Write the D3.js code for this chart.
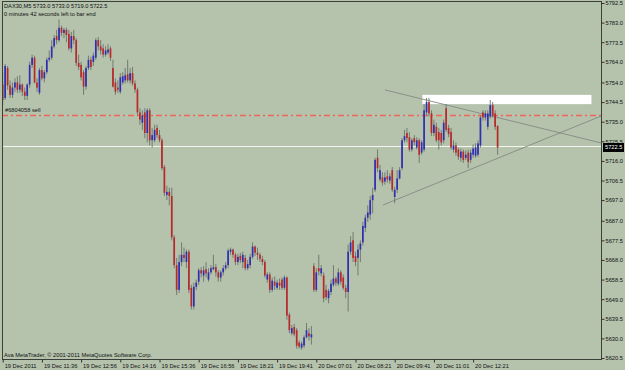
<!DOCTYPE html>
<html>
<head>
<title>DAX30,M5</title>
<script src="https://d3js.org/d3.v7.min.js" charset="utf-8"></script>
<style>
	body{ margin:0; background:#b5c3ad; }
	text{ font-family:"Liberation Sans", Arial, sans-serif; }
</style>
</head>
<body>
<script>
// chart window size
var width = 625;
var height = 370;

// M5 bars, 19 Dec 2011 .. 20 Dec 2011 12:xx
var opens = [
	5753,5746.5,5761,5752.5,5748,5751.5,5754,5750.5,5753,5749.5,
	5747.5,5753,5762.5,5766,5754,5749,5760,5756,5759,5765,
	5766,5771.5,5776.5,5774.5,5780.5,5778,5779.5,5777.5,5770.5,5776.5,
	5774.5,5763.5,5762.5,5759,5752,5761,5765,5764,5766,5774.5,
	5771.5,5770.5,5767.5,5768.5,5770.5,5761,5754,5751.5,5749.5,5754,
	5755,5758,5755,5758.5,5753.5,5750.5,5739.5,5734.5,5739.5,5729.5,
	5740.5,5726,5726,5732,5728.5,5726,5713,5699.5,5701,5699,
	5679,5665.5,5653.5,5667,5670.5,5667,5672,5654.5,5645.5,5655,
	5657.5,5663,5660.5,5663.5,5658.5,5662,5663.5,5664.5,5662,5659.5,
	5662,5664,5665.5,5672,5673,5670.5,5667,5670,5667,5669,
	5664,5665.5,5669.5,5674.5,5671.5,5670.5,5668.5,5667,5658.5,5661,
	5653.5,5657.5,5654.5,5657,5658.5,5654.5,5659.5,5641.5,5632.5,5635.5,
	5634,5628,5625.5,5626.5,5630.5,5632.5,5630.5,5665,5653.5,5664,
	5661.5,5660.5,5653.5,5649.5,5652.5,5656,5659,5656.5,5662,5659.5,
	5654.5,5652.5,5672,5677.5,5670,5669,5673,5676.5,5683.5,5688.5,
	5690,5697,5702,5717.5,5707,5708,5706,5708.5,5706.5,5711.5,
	5698.5,5702,5707.5,5712.5,5726,5729.5,5727.5,5721.5,5727,5722.5,
	5726,5720,5721.5,5739.5,5744.5,5739,5729.5,5732.5,5730,5729.5,
	5726,5741.5,5732,5730,5721.5,5723.5,5721.5,5717.5,5720.5,5717.5,
	5720,5716.5,5719,5718.5,5719,5723.5,5739.5,5737,5732.5,5737.5,
	5743,5739,5733
];
var highs = [
	5759,5763,5762,5755,5754,5756,5757,5757.5,5753.5,5751.5,
	5753.5,5764,5767.5,5767,5756,5761,5762,5760,5766,5769.5,
	5774.5,5777,5779.5,5784.5,5781.5,5780.5,5780.5,5779.5,5778.5,5779.5,
	5775.5,5767.5,5764,5760,5762,5767,5766.5,5768.5,5775.5,5776,
	5774.5,5772.5,5771.5,5772.5,5771.5,5765,5756,5755,5758.5,5759,
	5761,5765,5761,5761.5,5755,5751.5,5741.5,5740.5,5741.5,5741.5,
	5741.5,5732,5733.5,5733.5,5731,5727,5714,5704,5703,5703,
	5680,5669,5670.5,5676.5,5674,5673,5673,5656,5657,5658.5,
	5664,5664.5,5665,5667,5664,5665.5,5670.5,5666,5663,5663,
	5665.5,5667,5673.5,5674,5673.5,5671.5,5671,5671.5,5672,5670.5,
	5668,5671,5676.5,5675,5674,5671.5,5670,5668,5662,5662,
	5659.5,5660,5658.5,5659,5659.5,5660.5,5660,5642.5,5636.5,5637,
	5635,5629,5628.5,5631.5,5637.5,5635,5636,5666.5,5664,5670.5,
	5665.5,5662,5656,5654,5658.5,5665.5,5660,5664,5663,5661,
	5656,5675.5,5679.5,5681.5,5672,5675.5,5677.5,5686.5,5690,5694.5,
	5699,5703,5717.5,5721.5,5714,5710.5,5710.5,5711.5,5710,5713,
	5703.5,5711.5,5713,5727,5731,5732,5730,5727,5728.5,5727.5,
	5727,5726,5743.5,5746.5,5746.5,5740.5,5736,5734.5,5732,5731,
	5736,5743.5,5733.5,5732,5726,5725,5722.5,5722,5721.5,5721,
	5721.5,5721.5,5724,5724.5,5726,5738,5740.5,5740.5,5740.5,5745.5,
	5744.5,5740.5,5733
];
var lows = [
	5743,5745.5,5750.5,5746.5,5746.5,5749.5,5749,5749,5747.5,5745.5,
	5745.5,5751.5,5761,5753.5,5749.5,5748,5755,5754,5758,5764,
	5765,5770.5,5772.5,5773.5,5776.5,5775.5,5773.5,5769.5,5768.5,5772.5,
	5762,5760,5755,5748,5750.5,5760,5760,5762,5765,5769.5,
	5767.5,5766,5766.5,5767.5,5764.5,5751.5,5748,5749,5748.5,5753,
	5753.5,5754,5753.5,5752.5,5749,5738,5733.5,5731,5727,5725,
	5723.5,5722.5,5725,5727,5725,5711.5,5699,5697,5694.5,5677.5,
	5664,5651,5652,5665,5667,5664,5652,5644,5644,5653.5,
	5656,5659.5,5657.5,5659.5,5657.5,5661,5663,5660,5657.5,5657.5,
	5660.5,5663,5664,5670.5,5669,5665.5,5665.5,5666.5,5664,5663,
	5663,5664,5668.5,5670,5668,5667,5665.5,5659.5,5657,5652,
	5652.5,5653.5,5653.5,5653.5,5653.5,5653.5,5639,5632.5,5631.5,5631,
	5625,5625,5624.5,5625.5,5630,5629,5627,5652.5,5652.5,5660.5,
	5660,5647.5,5648.5,5647,5651,5655,5655.5,5655.5,5656,5653.5,
	5649.5,5643,5670.5,5667,5665,5660.5,5667,5675,5681.5,5686.5,
	5687.5,5690.5,5701,5710.5,5706,5704,5704.5,5705.5,5705,5701,
	5695.5,5700.5,5707,5711.5,5725,5725,5720.5,5720.5,5723.5,5721.5,
	5715,5719,5720.5,5738,5737.5,5728,5728,5725,5721.5,5723.5,
	5724.5,5730,5727.5,5721.5,5720,5718.5,5716.5,5715.5,5715,5716.5,
	5712.5,5715,5717.5,5717.5,5718,5722.5,5735.5,5735.5,5731,5736.5,
	5737,5731,5719
];
var closes = [
	5745.5,5762,5752.5,5748,5751.5,5754,5750.5,5753,5749.5,5747.5,
	5753,5762.5,5766,5754,5751.5,5760,5756,5759,5765,5766,
	5771.5,5775.5,5774.5,5780.5,5778,5779.5,5777,5770.5,5776.5,5774.5,
	5763.5,5761.5,5756.5,5752,5761,5765,5761.5,5767,5774.5,5771.5,
	5769.5,5767.5,5769.5,5770,5766,5752,5749.5,5750.5,5756.5,5757,
	5757.5,5755,5758.5,5753.5,5750.5,5739.5,5736,5738,5729.5,5740.5,
	5726,5728.5,5731,5728.5,5726,5712.5,5700.5,5701,5699,5679,
	5665.5,5653.5,5667,5670.5,5669,5672,5653.5,5645.5,5655,5657,
	5663,5661.5,5663,5661.5,5662,5664,5664.5,5662,5659.5,5662,
	5664,5665.5,5672.5,5673,5670.5,5667,5669.5,5668,5670.5,5664,
	5666,5669.5,5674.5,5671.5,5670.5,5668.5,5667,5660.5,5661,5653.5,
	5658,5655.5,5657,5655.5,5654.5,5659.5,5641,5634,5635,5632,
	5626.5,5626,5627.5,5630.5,5634,5631,5632,5653.5,5662,5662.5,
	5664,5649.5,5650,5653,5656.5,5659,5657,5662,5657.5,5654.5,
	5652.5,5672,5676.5,5669,5667,5673,5676,5684.5,5688.5,5691,
	5697,5699.5,5716.5,5712.5,5711.5,5705.5,5708,5707,5708.5,5702,
	5702,5707.5,5711.5,5726,5728,5727,5721.5,5726,5725,5726,
	5719,5725,5740.5,5744.5,5739,5729.5,5733.5,5726,5726,5725,
	5734.5,5731,5729,5722.5,5723.5,5720,5718,5720.5,5716.5,5719,
	5715.5,5720,5722,5722.5,5724.5,5737,5737,5739,5739,5743,
	5738,5732.5,5722.5
];

// time axis: one label every 16 bars
var timeIndex = [0,16,32,48,64,80,96,112,128,144,160,176,192];
var timeLabels = ["19 Dec 2011","19 Dec 11:36","19 Dec 12:56","19 Dec 14:16","19 Dec 15:36",
	"19 Dec 16:56","19 Dec 18:21","19 Dec 19:41","20 Dec 07:01","20 Dec 08:21",
	"20 Dec 09:41","20 Dec 11:01","20 Dec 12:21"];

// price axis
var priceTicks = [5792.5,5783.0,5773.5,5764.0,5754.0,5744.5,5735.0,5725.5,5716.0,5706.5,
	5697.0,5687.0,5677.5,5668.0,5658.5,5649.0,5639.5,5630.0,5620.5];

var bidPrice = 5722.5;
var orderPrice = 5738;
var orderLabel = "#6804058 sell";

// drawn objects: [bar, price] end points
var upperLine = [[156.0, 5750.4], [244.2, 5724.7]];
var lowerLine = [[155.2, 5694.6], [244.2, 5737.7]];
var box = {bar0: 171.3, bar1: 240.3, top: 5748, bottom: 5743.5};

var header1 = "DAX30,M5  5733.0 5733.0 5719.0 5722.5";
var header2 = "0 minutes 42 seconds left to bar end";
var copyright = "Ava MetaTrader, \u00a9 2001-2011 MetaQuotes Software Corp.";

var plotLeft = 2, plotRight = 601, plotTop = 1, plotBottom = 359;
var fontSize = 5.7;

var x = d3.scaleLinear().domain([0, 202]).range([2.7, 497.6]);
var y = d3.scaleLinear().domain([5620.5, 5792.5]).range([358, 3]);

var svg = d3.select("body")
	.append("svg")
	.attr("width", width)
	.attr("height", height);

svg.append("rect")
	.attr("width", width).attr("height", height)
	.attr("fill", "#b5c3ad");

svg.append("defs").append("clipPath").attr("id", "plot")
	.append("rect")
	.attr("x", plotLeft).attr("y", plotTop)
	.attr("width", plotRight - plotLeft).attr("height", plotBottom - plotTop);

var g = svg.append("g").attr("clip-path", "url(#plot)");

// order line (snapped to the pixel grid so the dashes stay crisp)
var orderY = Math.round(y(orderPrice)) + 0.5;
g.append("line")
	.attr("x1", plotLeft).attr("x2", plotRight)
	.attr("y1", orderY).attr("y2", orderY)
	.attr("stroke", "#f0645a")
	.attr("stroke-width", 1.3)
	.attr("stroke-dasharray", "6,3,2,3");

// bid line
var bidY = Math.round(y(bidPrice)) - 0.5;
g.append("line")
	.attr("x1", plotLeft).attr("x2", plotRight)
	.attr("y1", bidY).attr("y2", bidY)
	.attr("stroke", "#f4f4f0")
	.attr("stroke-width", 1);

// white rectangle object
g.append("rect")
	.attr("x", x(box.bar0))
	.attr("y", y(box.top))
	.attr("width", x(box.bar1) - x(box.bar0))
	.attr("height", y(box.bottom) - y(box.top))
	.attr("fill", "#ffffff");

// trend lines
[upperLine, lowerLine].forEach(function(l){
	g.append("line")
		.attr("x1", x(l[0][0])).attr("y1", y(l[0][1]))
		.attr("x2", x(l[1][0])).attr("y2", y(l[1][1]))
		.attr("stroke", "#858a84")
		.attr("stroke-width", 0.9);
});

var bars = d3.range(opens.length);

// wicks
g.selectAll("line.wick")
	.data(bars)
	.enter()
	.append("line")
	.attr("class", "wick")
	.attr("x1", function(i){ return x(i); })
	.attr("x2", function(i){ return x(i); })
	.attr("y1", function(i){ return y(highs[i]); })
	.attr("y2", function(i){ return y(lows[i]); })
	.attr("stroke", "#6c726c")
	.attr("stroke-width", 0.9);

// bodies
g.selectAll("rect.body")
	.data(bars)
	.enter()
	.append("rect")
	.attr("class", "body")
	.attr("x", function(i){ return x(i) - 0.85; })
	.attr("width", 1.7)
	.attr("y", function(i){ return y(Math.max(opens[i], closes[i])); })
	.attr("height", function(i){ return Math.max(0.8, Math.abs(y(opens[i]) - y(closes[i]))); })
	.attr("fill", function(i){ return closes[i] >= opens[i] ? "#2f2fb4" : "#b82a2a"; });

// frame
svg.append("rect")
	.attr("x", plotLeft + 0.5).attr("y", plotTop + 0.5)
	.attr("width", plotRight - plotLeft).attr("height", plotBottom - plotTop)
	.attr("fill", "none")
	.attr("stroke", "#3a3f3a")
	.attr("stroke-width", 1);

// price axis
var yAxis = d3.axisRight(y)
	.tickValues(priceTicks)
	.tickFormat(d3.format(".1f"))
	.tickSize(3)
	.tickPadding(1);

var ya = svg.append("g")
	.attr("transform", "translate(" + (plotRight + 0.5) + ",0)")
	.call(yAxis);
ya.select(".domain").remove();
ya.selectAll("line").attr("stroke", "#303030");
ya.selectAll("text")
	.attr("font-size", fontSize)
	.attr("font-family", "Liberation Sans, Arial, sans-serif")
	.attr("fill", "#101010");

// bid price label
svg.append("rect")
	.attr("x", plotRight + 2).attr("y", y(bidPrice) - 4.5)
	.attr("width", 21).attr("height", 9)
	.attr("fill", "#000000");
svg.append("text")
	.attr("x", plotRight + 4).attr("y", y(bidPrice))
	.attr("dy", "0.35em")
	.attr("font-size", fontSize)
	.attr("fill", "#ffffff")
	.text(d3.format(".1f")(bidPrice));

// time axis
var xAxis = d3.axisBottom(x)
	.tickValues(timeIndex)
	.tickFormat(function(d, i){ return timeLabels[i]; })
	.tickSize(3)
	.tickPadding(1);

var xa = svg.append("g")
	.attr("transform", "translate(0," + (plotBottom + 0.5) + ")")
	.call(xAxis);
xa.select(".domain").remove();
xa.selectAll("line").attr("stroke", "#303030");
xa.selectAll("text")
	.attr("text-anchor", "start")
	.attr("dx", 1.5)
	.attr("font-size", fontSize)
	.attr("font-family", "Liberation Sans, Arial, sans-serif")
	.attr("fill", "#101010");

// texts in the chart
svg.append("text").attr("x", 4).attr("y", 8)
	.attr("font-size", fontSize).attr("fill", "#101010").text(header1);
svg.append("text").attr("x", 4).attr("y", 15.5)
	.attr("font-size", fontSize).attr("fill", "#101010").text(header2);
svg.append("text").attr("x", 5).attr("y", orderY - 4)
	.attr("font-size", fontSize).attr("fill", "#101010").text(orderLabel);
svg.append("text").attr("x", 4).attr("y", 356.5)
	.attr("font-size", fontSize).attr("fill", "#101010").text(copyright);
</script>
</body>
</html>
